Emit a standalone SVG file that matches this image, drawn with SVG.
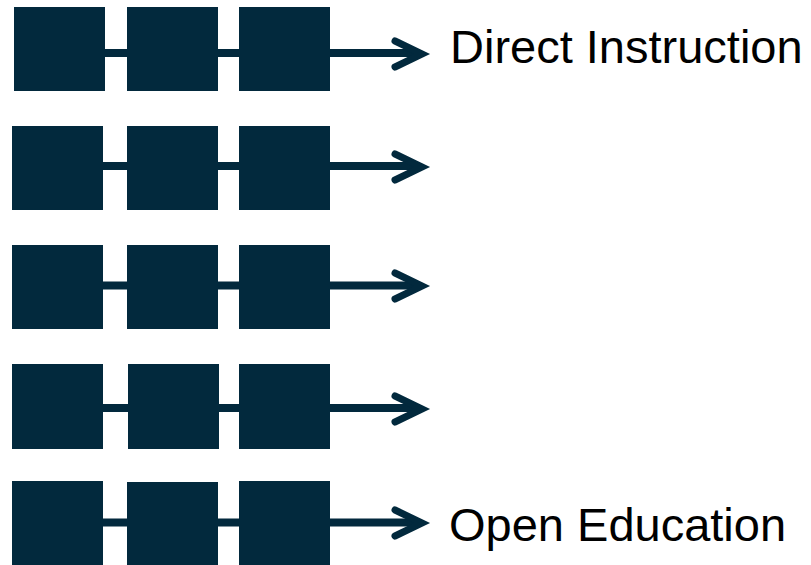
<svg xmlns="http://www.w3.org/2000/svg" width="811" height="565" viewBox="0 0 811 565">
<defs>
<style>
.box{fill:#02293d}
.ln{stroke:#02293d;stroke-width:8;fill:none}
.hd{stroke:#02293d;stroke-width:7;fill:none;stroke-linecap:round;stroke-linejoin:miter}
.lbl{font-family:"Liberation Sans",Arial,sans-serif;font-size:47px;fill:#000}
</style>
</defs>
<rect width="811" height="565" fill="#fff"/>
<g id="connectors">
<line class="ln" x1="100" y1="53" x2="420" y2="53"/>
<polyline class="hd" points="395,41 422,54 395,67"/>
<line class="ln" x1="100" y1="166" x2="420" y2="166"/>
<polyline class="hd" points="395,154 422,167 395,180"/>
<line class="ln" x1="100" y1="285.5" x2="420" y2="285.5"/>
<polyline class="hd" points="395,273 422,286 395,299"/>
<line class="ln" x1="100" y1="408" x2="420" y2="408"/>
<polyline class="hd" points="395,396 422,409 395,422"/>
<line class="ln" x1="100" y1="522.5" x2="420" y2="522.5"/>
<polyline class="hd" points="395,510 422,523 395,536"/>
</g>
<g id="row1">
<rect class="box" x="14" y="7" width="91" height="84"/>
<rect class="box" x="127" y="7" width="91" height="84"/>
<rect class="box" x="239" y="7" width="91" height="84"/>
</g>
<g id="row2">
<rect class="box" x="12" y="126" width="91" height="84"/>
<rect class="box" x="127" y="126" width="91" height="84"/>
<rect class="box" x="239" y="126" width="91" height="84"/>
</g>
<g id="row3">
<rect class="box" x="12" y="245" width="91" height="84"/>
<rect class="box" x="127" y="245" width="91" height="84"/>
<rect class="box" x="239" y="245" width="91" height="84"/>
</g>
<g id="row4">
<rect class="box" x="12" y="364" width="91" height="85"/>
<rect class="box" x="128" y="364" width="91" height="85"/>
<rect class="box" x="239" y="364" width="91" height="85"/>
</g>
<g id="row5">
<rect class="box" x="12" y="481" width="91" height="84"/>
<rect class="box" x="127" y="482" width="91" height="83"/>
<rect class="box" x="239" y="481" width="91" height="84"/>
</g>
<g id="label-direct">
<text class="lbl" x="450" y="63">Direct Instruction</text>
</g>
<g id="label-open">
<text class="lbl" x="449" y="541">Open Education</text>
</g>
</svg>
